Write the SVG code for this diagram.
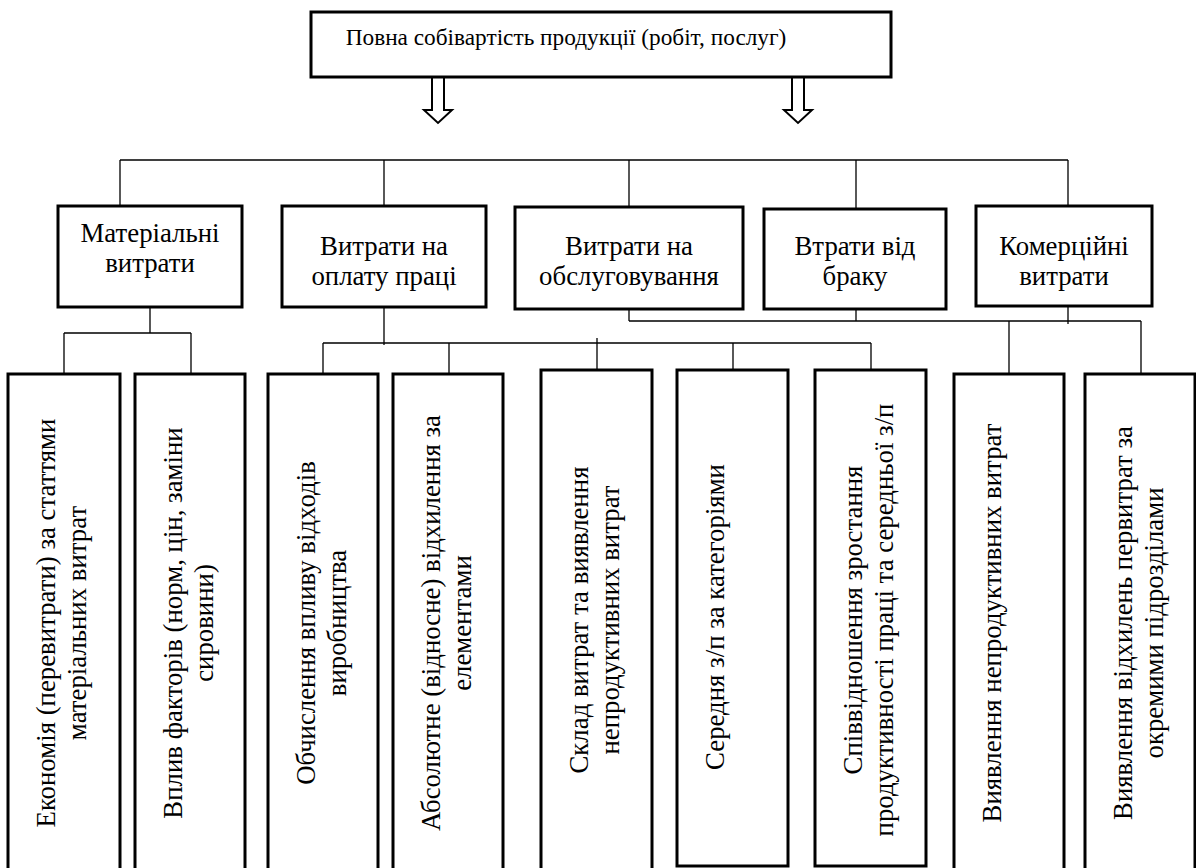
<svg xmlns="http://www.w3.org/2000/svg" width="1196" height="868" viewBox="0 0 1196 868">
  <style>
    .box { fill: #fff; stroke: #000; stroke-width: 3; }
    .arrow { fill: #fff; stroke: #000; stroke-width: 2; stroke-linejoin: miter; }
    .wire { fill: none; stroke: #000; stroke-width: 1.3; }
    text { fill: #000; font-family: "Liberation Serif", "Times New Roman", serif; text-anchor: middle; }
    .t-top { font-size: 23.3px; }
    .t-l1 { font-size: 26.8px; }
    .t-v { font-size: 26.8px; }
  </style>
  <rect width="1196" height="868" fill="#fff"/>

  <!-- connectors -->
  <g id="connectors" class="wire">
    <!-- hollow arrows under the root -->
    <polygon class="arrow" points="432,77 444,77 444,110 452,110 438,123 424,110 432,110"/>
    <polygon class="arrow" points="792,77 804,77 804,110 812,110 798,123 784,110 792,110"/>
    <!-- bus to the cost groups -->
    <path d="M120,160 H1068 M120,160 V206 M384,160 V206 M629,160 V207 M856,160 V209 M1068,160 V206"/>
    <!-- material costs -->
    <path d="M150,307 V333 M64,333 H191 M64,333 V374 M191,333 V374"/>
    <!-- labour costs -->
    <path d="M384,307 V345 M323,343 H871 M323,343 V374 M449,343 V374 M597,338 V370 M733,343 V370 M871,343 V370"/>
    <!-- service, defect and commercial costs -->
    <path d="M629,309 V321 M856,309 V321 M1068,306 V324 M629,321 H1141 M1009,321 V374 M1141,321 V374"/>
  </g>

  <!-- root -->
  <g id="root">
    <rect class="box" x="311" y="12" width="580" height="65"/>
    <text class="t-top" x="566" y="45">Повна собівартість продукції (робіт, послуг)</text>
  </g>

  <!-- cost groups -->
  <g id="material">
    <rect class="box" x="58" y="206" width="184" height="101"/>
    <text class="t-l1" x="150" y="242">Матеріальні</text>
    <text class="t-l1" x="150" y="272">витрати</text>
  </g>
  <g id="labour">
    <rect class="box" x="282" y="206" width="204" height="101"/>
    <text class="t-l1" x="384" y="255">Витрати на</text>
    <text class="t-l1" x="384" y="285">оплату праці</text>
  </g>
  <g id="service">
    <rect class="box" x="515" y="207" width="228" height="102"/>
    <text class="t-l1" x="629" y="255">Витрати на</text>
    <text class="t-l1" x="629" y="285">обслуговування</text>
  </g>
  <g id="defects">
    <rect class="box" x="764" y="209" width="182" height="100"/>
    <text class="t-l1" x="855" y="255">Втрати від</text>
    <text class="t-l1" x="855" y="285">браку</text>
  </g>
  <g id="commercial">
    <rect class="box" x="976" y="206" width="176" height="100"/>
    <text class="t-l1" x="1064" y="255">Комерційні</text>
    <text class="t-l1" x="1064" y="285">витрати</text>
  </g>

  <!-- analysis directions (vertical text) -->
  <g id="economy">
    <rect class="box" x="8" y="374" width="112" height="510"/>
    <text class="t-v" transform="translate(55,623) rotate(-90)">Економія (перевитрати) за статтями</text>
    <text class="t-v" transform="translate(86,623) rotate(-90)">матеріальних витрат</text>
  </g>
  <g id="factors">
    <rect class="box" x="135" y="374" width="110" height="510"/>
    <text class="t-v" transform="translate(182,623) rotate(-90)">Вплив факторів (норм, цін, заміни</text>
    <text class="t-v" transform="translate(213,623) rotate(-90)">сировини)</text>
  </g>
  <g id="waste">
    <rect class="box" x="268" y="374" width="110" height="510"/>
    <text class="t-v" transform="translate(315,623) rotate(-90)">Обчислення впливу відходів</text>
    <text class="t-v" transform="translate(346,623) rotate(-90)">виробництва</text>
  </g>
  <g id="deviation">
    <rect class="box" x="393" y="374" width="110" height="510"/>
    <text class="t-v" transform="translate(440,623) rotate(-90)">Абсолютне (відносне) відхилення за</text>
    <text class="t-v" transform="translate(471,623) rotate(-90)">елементами</text>
  </g>
  <g id="structure">
    <rect class="box" x="541" y="370" width="111" height="514"/>
    <text class="t-v" transform="translate(588,620) rotate(-90)">Склад витрат та виявлення</text>
    <text class="t-v" transform="translate(619,620) rotate(-90)">непродуктивних витрат</text>
  </g>
  <g id="avg-wage">
    <rect class="box" x="677" y="370" width="111" height="496"/>
    <text class="t-v" transform="translate(724,617) rotate(-90)">Середня з/п за категоріями</text>
  </g>
  <g id="ratio">
    <rect class="box" x="815" y="370" width="111" height="496"/>
    <text class="t-v" transform="translate(862,620) rotate(-90)">Співвідношення зростання</text>
    <text class="t-v" transform="translate(893,620) rotate(-90)">продуктивності праці та середньої з/п</text>
  </g>
  <g id="unproductive">
    <rect class="box" x="954" y="374" width="110" height="510"/>
    <text class="t-v" transform="translate(1001,623) rotate(-90)">Виявлення непродуктивних витрат</text>
  </g>
  <g id="units">
    <rect class="box" x="1085" y="374" width="110" height="510"/>
    <text class="t-v" transform="translate(1132,623) rotate(-90)">Виявлення відхилень первитрат за</text>
    <text class="t-v" transform="translate(1163,623) rotate(-90)">окремими підрозділами</text>
  </g>
</svg>
